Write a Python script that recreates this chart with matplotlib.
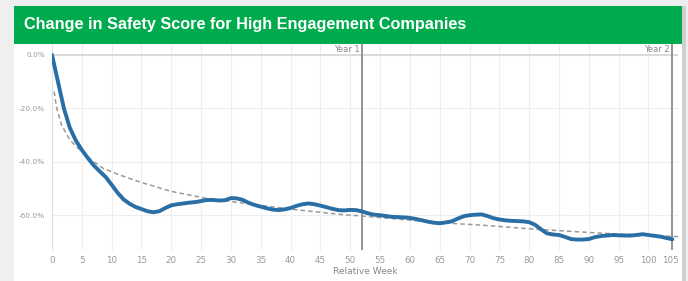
import matplotlib
matplotlib.use("Agg")
import matplotlib.pyplot as plt
from matplotlib.patches import Rectangle

# ---------------- data ----------------
title = "Change in Safety Score for High Engagement Companies"
weeks = list(range(0, 105))
score_change = [
    0.0, -10.0, -20.0, -27.3, -32.0, -35.5, -38.5, -41.3, -43.5, -45.6,
    -48.5, -51.5, -54.0, -55.6, -56.8, -57.6, -58.4, -58.8, -58.4, -57.2,
    -56.2, -55.8, -55.5, -55.2, -55.0, -54.6, -54.2, -54.2, -54.4, -54.3,
    -53.5, -53.6, -54.2, -55.3, -56.1, -56.7, -57.3, -57.8, -58.0, -57.7,
    -57.2, -56.4, -55.8, -55.5, -55.8, -56.3, -56.9, -57.5, -58.0, -58.1,
    -57.9, -58.0, -58.5, -59.2, -59.7, -59.9, -60.2, -60.5, -60.6, -60.7,
    -60.9, -61.3, -61.8, -62.3, -62.7, -62.9, -62.6, -62.2, -61.2, -60.3,
    -59.9, -59.7, -59.6, -60.2, -61.0, -61.5, -61.8, -62.0, -62.1, -62.2,
    -62.5, -63.5, -65.2, -66.7, -67.1, -67.3, -68.0, -68.8, -69.0, -69.0,
    -68.8, -68.1, -67.7, -67.5, -67.3, -67.4, -67.5, -67.5, -67.3, -67.0,
    -67.3, -67.6, -67.9, -68.4, -68.9,
]
trend_weeks = [0.35, 0.8, 1.6, 3, 4.4, 5.5, 6.4, 8.6, 11.4, 14.75, 20, 25.9,
               31.5, 39.9, 48.3, 52, 65, 72, 81.5, 92, 105]
trend_values = [-13.7, -19.9, -26.2, -31.8, -34.9, -36.7, -39.0, -42.4, -44.9,
                -47.5, -51.0, -53.6, -55.2, -57.6, -59.6, -60.2, -62.7, -63.6,
                -65.2, -66.6, -67.9]
x_ticks = list(range(0, 106, 5))
y_ticks = [0, -20, -40, -60]
y_tick_labels = ["0.0%", "-20.0%", "-40.0%", "-60.0%"]
ref_weeks = [52, 104]
ref_labels = ["Year 1", "Year 2"]

# ---------------- figure ----------------
W, H = 688, 281
fig = plt.figure(figsize=(W / 100, H / 100), dpi=100)
fig.patch.set_facecolor("#efefef")

def px_rect(x0, y0, x1, y1, color, z=-10):
    fig.patches.append(Rectangle((x0 / W, 1 - y1 / H), (x1 - x0) / W, (y1 - y0) / H,
                                 transform=fig.transFigure, facecolor=color,
                                 edgecolor="none", zorder=z))

px_rect(682, 6, 686, 281, "#cfcfcf")
px_rect(14, 6, 682, 281, "white")
px_rect(14, 6, 682, 44, "#00ab4e")
fig.text(24 / W, 1 - 25 / H, title, color="white", fontsize=11.7, fontweight="bold",
         family=["Liberation Sans", "DejaVu Sans"], va="center", ha="left")

ax_l, ax_r, ax_t, ax_b = 52, 678.3, 44, 250
ax = fig.add_axes([ax_l / W, 1 - ax_b / H, (ax_r - ax_l) / W, (ax_b - ax_t) / H])
ax.set_zorder(5)
ax.set_facecolor("white")
ax.set_xlim(0, 105)
ax.set_ylim(-72.9, 4.1)

ax.set_xticks(x_ticks)
ax.set_yticks(y_ticks)
ax.set_yticklabels(y_tick_labels)
ax.grid(True, color="#eeeeee", linewidth=0.8)
ax.set_axisbelow(True)
ax.axhline(0, color="#d8d8d8", linewidth=1.3, zorder=1)
for s in ["top", "right", "bottom"]:
    ax.spines[s].set_visible(False)
ax.spines["left"].set_color("#e2e2e2")
ax.tick_params(length=0, colors="#999999")
ax.tick_params(axis="y", labelsize=5.3, pad=5)
ax.tick_params(axis="x", labelsize=6.3, pad=4)
labels = ax.get_xticklabels()
labels[-1].set_ha("right")

for wk, lab in zip(ref_weeks, ref_labels):
    ax.axvline(wk, color="#8c8c8c", linewidth=1.3, zorder=2)
    ax.text(wk - 0.4, 2.2, lab, ha="right", va="center", fontsize=6, color="#888888")

ax.plot(trend_weeks, trend_values, color="#9a9a9a", linewidth=1.1,
        linestyle=(0, (3, 2)), zorder=3)
ax.plot(weeks, score_change, color="#2a6ea6", linewidth=2.8,
        solid_capstyle="round", solid_joinstyle="round", zorder=4)

ax.set_xlabel("Relative Week", fontsize=6.5, color="#888888", labelpad=2)

fig.savefig("out.png", dpi=100, facecolor=fig.get_facecolor())
